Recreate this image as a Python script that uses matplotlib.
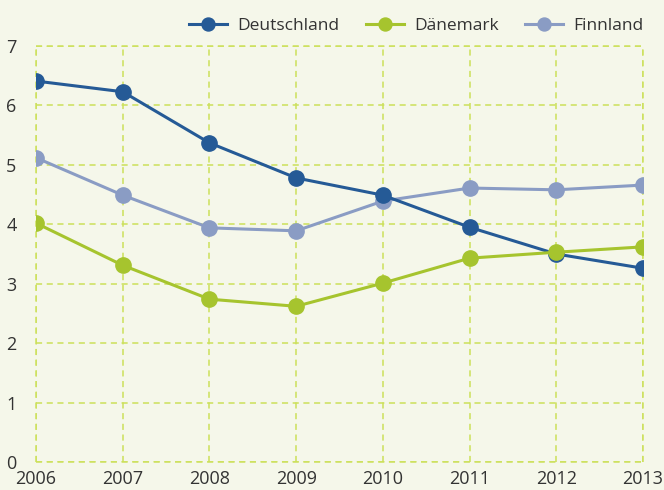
import matplotlib
matplotlib.use('Agg')
import matplotlib.pyplot as plt

# Data
years = [2006, 2007, 2008, 2009, 2010, 2011, 2012, 2013]
deutschland = [6.41, 6.23, 5.37, 4.78, 4.49, 3.95, 3.50, 3.26]
daenemark = [4.02, 3.31, 2.74, 2.62, 3.01, 3.43, 3.53, 3.62]
finnland = [5.12, 4.49, 3.94, 3.89, 4.39, 4.61, 4.58, 4.66]
yticks = [0, 1, 2, 3, 4, 5, 6, 7]

bg = '#F5F7EA'
gridcol = '#CCE05A'

plt.rcParams['font.family'] = ['Open Sans', 'DejaVu Sans']

fig = plt.figure(figsize=(6.64, 4.9), dpi=100, facecolor=bg)
ax = fig.add_axes([36/664, 1-462/490, (643-36)/664, (462-46)/490])
ax.set_facecolor(bg)

# draw order so that Dänemark covers Deutschland at 2012
ax.plot(years, finnland, color='#8A9CC4', lw=2.2, marker='o', ms=11, label='Finnland', zorder=3)
ax.plot(years, deutschland, color='#255A96', lw=2.2, marker='o', ms=11, label='Deutschland', zorder=4)
ax.plot(years, daenemark, color='#A6C42E', lw=2.2, marker='o', ms=11, label='Dänemark', zorder=5)

ax.set_xlim(2006, 2013)
ax.set_ylim(0, 7)
ax.set_xticks(years)
ax.set_yticks(yticks)
ax.grid(True, color=gridcol, ls=(0, (4, 3)), lw=1.1, zorder=1)
for s in ax.spines.values():
    s.set_visible(False)
# dashed frame round the plot area
ax.axhline(7, color=gridcol, ls=(0, (4, 3)), lw=1.1, zorder=1, clip_on=False)
ax.axvline(2013, color=gridcol, ls=(0, (4, 3)), lw=1.1, zorder=1, clip_on=False)
ax.axhline(0, color=gridcol, ls=(0, (4, 3)), lw=1.1, zorder=1, clip_on=False)
ax.axvline(2006, color=gridcol, ls=(0, (4, 3)), lw=1.1, zorder=1, clip_on=False)

ax.tick_params(length=0, labelsize=13, colors='#333333')
ax.tick_params(axis='y', pad=14)
ax.tick_params(axis='x', pad=6)

h, l = ax.get_legend_handles_labels()
order = [1, 2, 0]
leg = fig.legend([h[i] for i in order], [l[i] for i in order], loc='upper right',
                 bbox_to_anchor=(0.993, 0.995), ncol=3, frameon=False, fontsize=12.5,
                 handlelength=2.2, columnspacing=1.5, handletextpad=0.6, markerscale=0.85)
for t in leg.get_texts():
    t.set_color('#333333')

fig.savefig('out.png', dpi=100, facecolor=bg)
